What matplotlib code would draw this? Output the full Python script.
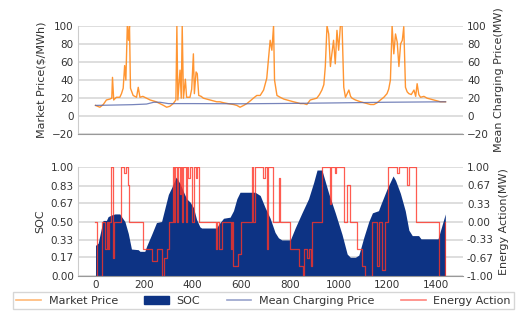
# plot.py
# Storage dispatch: market price vs. SOC / energy action
import matplotlib
matplotlib.use("Agg")
import matplotlib.pyplot as plt
from matplotlib.patches import Patch
from matplotlib.lines import Line2D

# ── data ──────────────────────────────────────────────────────────────────
price_t = [0, 18, 32, 45, 59, 67, 70, 75, 86, 100, 107, 114, 120, 125, 131, 136, 140, 144,
           155, 169, 176, 183, 195, 210, 225, 238, 250, 265, 280, 293, 306, 320, 331, 335,
           339, 348, 353, 357, 362, 370, 375, 389, 396, 403, 407, 414, 419, 425, 435, 444,
           458, 471, 485, 499, 512, 526, 545, 568, 582, 595, 610, 623, 637, 650, 664, 678,
           692, 705, 719, 726, 733, 737, 747, 760, 775, 788, 800, 815, 830, 843, 857, 870,
           884, 898, 911, 922, 932, 940, 946, 953, 960, 967, 973, 980, 987, 994, 1001, 1008,
           1015, 1022, 1029, 1036, 1043, 1050, 1056, 1070, 1091, 1105, 1118, 1132, 1146,
           1160, 1173, 1187, 1200, 1207, 1214, 1221, 1228, 1235, 1242, 1249, 1256, 1263,
           1269, 1276, 1283, 1290, 1300, 1311, 1318, 1324, 1331, 1338, 1352, 1365, 1379,
           1393, 1406, 1420, 1441]
price_v = [12, 10, 13, 18, 19, 20, 43, 18, 21, 21, 25, 31, 56, 40, 100, 84, 100, 31,
           23, 21, 32, 21, 22, 20, 18, 17, 16, 14, 12, 10, 11, 14, 18, 100,
           18, 51, 20, 100, 20, 41, 21, 21, 30, 69, 25, 49, 47, 23, 22, 20,
           19, 18, 17, 16, 16, 15, 14, 13, 12, 10, 12, 14, 17, 20, 23, 23,
           29, 42, 84, 73, 100, 40, 23, 21, 19, 18, 17, 16, 15, 14, 14, 13,
           18, 19, 20, 24, 29, 35, 55, 100, 91, 55, 69, 84, 58, 95, 73, 100,
           100, 32, 21, 25, 29, 22, 20, 18, 16, 15, 14, 13, 13,
           15, 18, 21, 25, 30, 40, 100, 69, 91, 82, 55, 80, 84,
           99, 32, 27, 25, 24, 29, 22, 36, 24, 21, 22, 20, 19,
           18, 17, 16, 16]

mean_t = [0, 150, 210, 240, 265, 300, 400, 600, 800, 1000, 1200, 1441]
mean_v = [12, 12.8, 13.5, 15.5, 15.5, 14, 14, 13.8, 14.2, 14.8, 15.5, 16]

soc_t = [0, 0.1, 11, 31, 45, 52, 66, 80, 100, 107, 121, 135, 148, 176, 183, 203, 210,
         231, 251, 272, 300, 315, 332, 340, 348, 361, 375, 389, 403, 416, 430, 437, 499,
         506, 527, 554, 568, 582, 595, 657, 678, 698, 719, 739, 753, 767, 802, 822, 850,
         877, 898, 912, 932, 960, 987, 1015, 1036, 1049, 1070, 1084, 1104, 1125, 1140,
         1165, 1175, 1200, 1225, 1235, 1255, 1275, 1290, 1304, 1330, 1340, 1410, 1440]
soc_v = [0, 0.28, 0.30, 0.51, 0.51, 0.545, 0.56, 0.57, 0.57, 0.545, 0.50, 0.39, 0.246,
         0.24, 0.225, 0.225, 0.27, 0.38, 0.49, 0.50, 0.75, 0.82, 0.91, 0.88, 0.85, 0.78,
         0.71, 0.68, 0.63, 0.52, 0.45, 0.44, 0.44, 0.47, 0.53, 0.54, 0.60, 0.71, 0.77,
         0.77, 0.74, 0.63, 0.53, 0.40, 0.35, 0.33, 0.33, 0.44, 0.58, 0.71, 0.86, 0.975,
         0.975, 0.76, 0.58, 0.38, 0.20, 0.17, 0.17, 0.19, 0.35, 0.50, 0.58, 0.60, 0.66,
         0.80, 0.92, 0.88, 0.76, 0.60, 0.42, 0.37, 0.37, 0.34, 0.34, 0.57]

act_t = [0, 6, 28, 40, 46, 50, 56, 64, 72, 77, 106, 118, 124, 132, 138, 148, 196, 232,
         253, 273, 282, 296, 304, 318, 322, 328, 334, 338, 346, 350, 356, 362, 372, 376,
         382, 390, 398, 404, 412, 418, 428, 496, 502, 508, 520, 556, 562, 567, 588, 600,
         643, 650, 655, 690, 698, 707, 712, 730, 757, 761, 802, 838, 853, 860, 872, 880,
         886, 892, 934, 965, 970, 985, 990, 1022, 1036, 1046, 1077, 1098, 1110, 1140,
         1158, 1166, 1180, 1190, 1206, 1214, 1240, 1250, 1283, 1290, 1321, 1413, 1437, 1440]
act_v = [0, -1, 0, -0.5, 0, -0.5, 0, 1, -0.67, 0, 1, 0.9, 1, 0.67, 0, 0, -0.5, -0.72,
         -0.5, -1, -0.67, -0.5, 0, 1, 0, 1, 0, 1, 0.5, 1, 0, 1, 0, 1,
         0.8, 1, 0, 1, 0.8, 1, 0, -0.5, 0, -0.5, 0, -0.5, 0, -0.83, -0.6, 0,
         1, 0, 1, 0.8, 1, -0.5, 1, 0, 0.8, 0, -0.5, -0.83, -1, -0.5, -0.67, -0.5,
         -0.83, 0, 1, 0.33, 1, 0.9, 1, 0, 0.67, 0, -0.5, -0.83, -1, 0,
         -0.83, 0, -0.9, 0, 1, 1, 0.9, 1, 0.67, 1, 0, -1, 0, 0]

price_ticks = [-20, 0, 20, 40, 60, 80, 100]
soc_ticks = [0.0, 0.17, 0.33, 0.50, 0.67, 0.83, 1.00]
act_ticks = [-1.0, -0.67, -0.33, 0.0, 0.33, 0.67, 1.0]
x_ticks = [0, 200, 400, 600, 800, 1000, 1200, 1400]
# ──────────────────────────────────────────────────────────────────────────

FS = 7.5      # tick labels
LFS = 8       # axis labels / legend
C_PRICE = "#ff8a1c"
C_MEAN = "#5566aa"
C_SOC = "#0d3384"
C_ACT = "#ff3326"
GRID = "#d8d8d8"
TXT = "#333333"


def style(ax, left=True):
    for s in ["top", "right", "left", "bottom"]:
        ax.spines[s].set_visible(False)
    if left:
        ax.spines["left"].set_visible(True)
        ax.spines["left"].set_color("#cccccc")
        ax.spines["bottom"].set_visible(True)
        ax.spines["bottom"].set_color("#999999")
    ax.tick_params(length=0, labelsize=FS, colors=TXT, pad=3)


fig = plt.figure(figsize=(5.2, 3.11), dpi=100)

# top panel: prices
ax1 = fig.add_axes([0.15, 0.568, 0.74, 0.349])
ax1.plot(price_t, price_v, color=C_PRICE, lw=1.0, alpha=0.9, zorder=3)
ax1.set_ylim(-20, 100)
ax1.set_yticks(price_ticks)
ax1.set_xlim(-72, 1512)
ax1.set_xticks([])
ax1.grid(axis="y", color=GRID, lw=1.2)
ax1.set_axisbelow(True)
ax1.set_ylabel("Market Price($/MWh)", fontsize=LFS, color=TXT)
style(ax1)

ax1r = ax1.twinx()
ax1r.plot(mean_t, mean_v, color=C_MEAN, lw=0.9, alpha=0.8)
ax1r.set_ylim(-20, 100)
ax1r.set_yticks(price_ticks)
ax1r.set_ylabel("Mean Charging Price(MW)", fontsize=LFS, color=TXT)
style(ax1r, left=False)

# bottom panel: SOC and energy action
ax2 = fig.add_axes([0.15, 0.1135, 0.74, 0.3485])
ax2.fill_between(soc_t, 0, soc_v, color=C_SOC, lw=0, zorder=2)
ax2.set_ylim(0, 1)
ax2.set_yticks(soc_ticks)
ax2.set_yticklabels([f"{v:.2f}" for v in soc_ticks])
ax2.set_xlim(-72, 1512)
ax2.set_xticks(x_ticks)
ax2.grid(axis="y", color=GRID, lw=1.2)
ax2.set_axisbelow(True)
ax2.set_ylabel("SOC", fontsize=LFS, color=TXT)
style(ax2)

ax2r = ax2.twinx()
ax2r.plot(act_t, act_v, drawstyle="steps-post", color=C_ACT, lw=0.9, alpha=0.8)
ax2r.set_ylim(-1, 1)
ax2r.set_yticks(act_ticks)
ax2r.set_yticklabels([f"{v:.2f}" for v in act_ticks])
ax2r.set_ylabel("Energy Action(MW)", fontsize=LFS, color=TXT)
style(ax2r, left=False)

handles = [
    Line2D([], [], color=C_PRICE, lw=1.2, alpha=0.6),
    Patch(facecolor=C_SOC, edgecolor=C_SOC),
    Line2D([], [], color=C_MEAN, lw=1.2, alpha=0.6),
    Line2D([], [], color=C_ACT, lw=1.2, alpha=0.6),
]
labels = ["Market Price", "SOC", "Mean Charging Price", "Energy Action"]
leg = fig.legend(handles, labels, loc="upper left", bbox_to_anchor=(0.025, 0.06),
                 ncol=4, fontsize=LFS, frameon=True, fancybox=False, borderaxespad=0,
                 handlelength=2.2, handletextpad=0.7, columnspacing=2.4, borderpad=0.3)
leg.get_frame().set_edgecolor("#cccccc")
for t in leg.get_texts():
    t.set_color(TXT)

plt.savefig("out.png", dpi=100)
